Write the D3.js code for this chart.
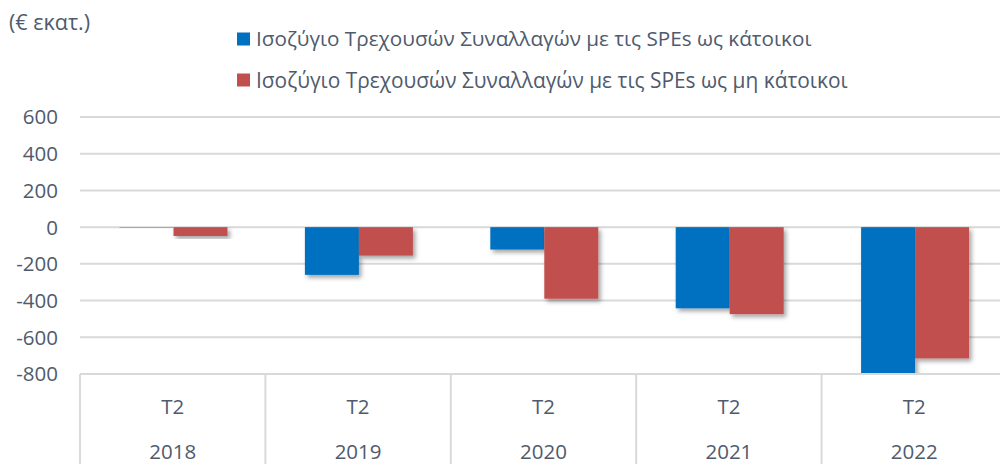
<!DOCTYPE html>
<html><head><meta charset="utf-8">
<script src="https://cdn.jsdelivr.net/npm/d3@7"></script>
<style>
html,body{margin:0;padding:0;background:#fff;}
svg{display:block;font-family:"Open Sans",sans-serif;}
</style></head>
<body>
<svg id="c" width="1000" height="464"></svg>
<script>
const years = ["2018","2019","2020","2021","2022"];
const quarters = ["T2","T2","T2","T2","T2"];
const seriesNames = ["Ισοζύγιο Τρεχουσών Συναλλαγών με τις SPEs ως κάτοικοι","Ισοζύγιο Τρεχουσών Συναλλαγών με τις SPEs ως μη κάτοικοι"];
const residents = [-2, -260, -122, -442, -830];
const nonResidents = [-48, -155, -390, -474, -715];
const yTicks = [600, 400, 200, 0, -200, -400, -600, -800];
const unitLabel = "(€ εκατ.)";

(function(){
const colors = ["#0070C0", "#C0504D"];
const textColor = "#4f5b6d";
const gridColor = "#d9d9d9";

const svg = d3.select("#c");
const defs = svg.append("defs");
const f = defs.append("filter").attr("id","sh").attr("x","-20%").attr("y","-20%").attr("width","150%").attr("height","150%");
f.append("feDropShadow").attr("dx",2.5).attr("dy",3).attr("stdDeviation",2).attr("flood-color","#000").attr("flood-opacity",0.35);
const clip = defs.append("clipPath").attr("id","pc");

const pL = 80, pR = 80 + 5*185.4, pT = 117, pB = 374;
const y = d3.scaleLinear().domain([-800, 600]).range([pB, pT]);
const x0 = d3.scaleBand().domain(years).range([pL, pR]).padding(0);
const x1 = d3.scaleBand().domain([0,1]).range([39.5, 147.5]).padding(0);

clip.append("rect").attr("x", pL).attr("y", pT-20).attr("width", pR-pL).attr("height", pB-pT+20);

svg.append("g").selectAll("line").data(yTicks).join("line")
  .attr("x1", pL).attr("x2", pR)
  .attr("y1", d => y(d)).attr("y2", d => y(d))
  .attr("stroke", gridColor).attr("stroke-width", 2);

svg.append("g").selectAll("text").data(yTicks).join("text")
  .attr("x", 58).attr("y", d => y(d)).attr("dy", "0.36em")
  .attr("text-anchor", "end").attr("fill", textColor)
  .attr("font-size", 20.5).text(d => d);

const data = years.map((yr, i) => ({yr, vals: [residents[i], nonResidents[i]]}));
const g = svg.append("g").attr("clip-path", "url(#pc)");
data.forEach(d => {
  d.vals.forEach((v, s) => {
    g.append("rect")
      .attr("x", x0(d.yr) + x1(s))
      .attr("width", x1.bandwidth())
      .attr("y", y(Math.max(0, v)))
      .attr("height", Math.abs(y(v) - y(0)))
      .attr("fill", colors[s])
      .attr("filter", "url(#sh)");
  });
});

const axTop = pB, axBot = 470;
svg.append("line").attr("x1", pL).attr("x2", pR).attr("y1", axTop).attr("y2", axTop)
  .attr("stroke", gridColor).attr("stroke-width", 2);
svg.append("g").selectAll("line").data(d3.range(years.length+1)).join("line")
  .attr("x1", i => pL + i*x0.bandwidth()).attr("x2", i => pL + i*x0.bandwidth())
  .attr("y1", axTop).attr("y2", axBot)
  .attr("stroke", gridColor).attr("stroke-width", 2);
svg.append("g").selectAll("text").data(years).join("text")
  .attr("x", d => x0(d) + x0.bandwidth()/2).attr("y", 407).attr("dy","0.36em")
  .attr("text-anchor","middle").attr("fill", textColor).attr("font-size", 20.5)
  .text((d,i) => quarters[i]);
svg.append("g").selectAll("text").data(years).join("text")
  .attr("x", d => x0(d) + x0.bandwidth()/2).attr("y", 452).attr("dy","0.36em")
  .attr("text-anchor","middle").attr("fill", textColor).attr("font-size", 20.5)
  .text(d => d);

svg.append("text").attr("x", 9).attr("y", 22).attr("dy","0.36em")
  .attr("fill", textColor).attr("font-size", 21.5).text(unitLabel);

const legRows = [39, 80];
const legEnds = [812, 848];
seriesNames.forEach((n, i) => {
  svg.append("rect").attr("x", 237).attr("y", legRows[i]-6.5).attr("width", 13).attr("height", 13).attr("fill", colors[i]);
  const t = svg.append("text").attr("x", 256).attr("y", legRows[i]).attr("dy","0.36em")
    .attr("fill", textColor).attr("font-size", 18).text(n);
  const w = t.node().getComputedTextLength();
  t.attr("font-size", 18 * (legEnds[i]-256) / w);
});
})();
</script>
</body></html>
